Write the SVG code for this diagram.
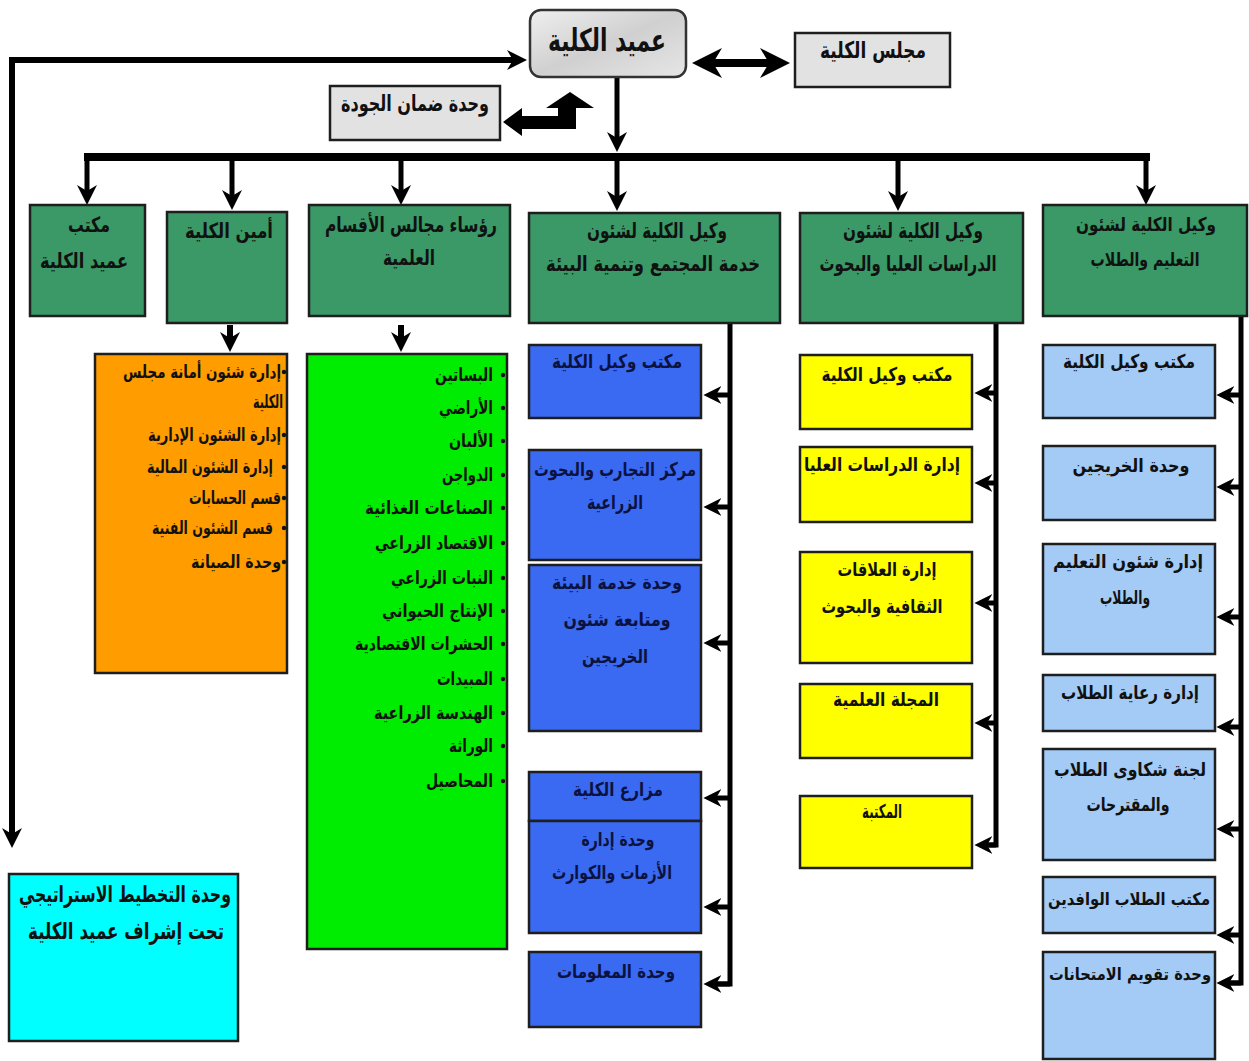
<svg xmlns="http://www.w3.org/2000/svg" width="1249" height="1061" viewBox="0 0 1249 1061">
<defs>
<style>
.bx{stroke:#1e1e1e;stroke-width:2.5}
.g2{fill:#3a9966}
.or{fill:#ff9c00}
.li{fill:#00ec00}
.bl{fill:#3a6af2}
.ye{fill:#ffff00}
.lb{fill:#a3cbf5}
.cy{fill:#00ffff}
.gr{fill:#e2e2e2}
text{font-family:"DejaVu Sans","Liberation Sans",sans-serif;font-weight:bold;text-anchor:middle;dominant-baseline:central;fill:#111}
.t20{font-size:21px}
.t18{font-size:19px}
.tl{font-size:18px;text-anchor:end}
.tb{fill:#0c1240}
.con{stroke:#000;fill:none}
.w5{stroke-width:5}
.w6{stroke-width:6}
.w8{stroke-width:8}
.bul{fill:#111}
</style>
<linearGradient id="gdean" x1="0" y1="0" x2="1" y2="1">
<stop offset="0" stop-color="#efefef"/>
<stop offset="0.5" stop-color="#d0d0d0"/>
<stop offset="1" stop-color="#e6e6e6"/>
</linearGradient>
<marker id="ah" viewBox="0 0 20 20" refX="6" refY="10" markerWidth="20" markerHeight="20" orient="auto" markerUnits="userSpaceOnUse">
<path d="M0,0 L20,10 L0,20 L6,10 z" fill="#000"/>
</marker>
<marker id="ahs" viewBox="0 0 20 20" refX="6" refY="10" markerWidth="18" markerHeight="18" orient="auto" markerUnits="userSpaceOnUse">
<path d="M0,0 L20,10 L0,20 L6,10 z" fill="#000"/>
</marker>
<marker id="ahb" viewBox="0 0 20 20" refX="6" refY="10" markerWidth="30" markerHeight="30" orient="auto" markerUnits="userSpaceOnUse">
<path d="M0,0 L20,10 L0,20 L6,10 z" fill="#000"/>
</marker>
<marker id="ahbs" viewBox="0 0 20 20" refX="6" refY="10" markerWidth="30" markerHeight="30" orient="auto-start-reverse" markerUnits="userSpaceOnUse">
<path d="M0,0 L20,10 L0,20 L6,10 z" fill="#000"/>
</marker>
</defs>
<rect width="1249" height="1061" fill="#fff"/>

<g id="connectors">
<line class="con w6" x1="12" y1="60" x2="513" y2="60" marker-end="url(#ah)"/>
<line class="con w6" x1="12" y1="57" x2="12" y2="834" marker-end="url(#ah)"/>
<line class="con w8" x1="713" y1="63" x2="769" y2="63" marker-start="url(#ahbs)" marker-end="url(#ahb)"/>
<polygon points="503,122 522,108 522,116 558,116 558,108 546,108 570,92 594,108 576,108 576,129 522,129 522,136" fill="#000"/>
<line class="con w5" x1="617" y1="78" x2="617" y2="138" marker-end="url(#ah)"/>
<line class="con w8" x1="84" y1="157" x2="1150" y2="157"/>
<line class="con w5" x1="87" y1="157" x2="87" y2="191" marker-end="url(#ah)"/>
<line class="con w5" x1="232" y1="157" x2="232" y2="196" marker-end="url(#ah)"/>
<line class="con w5" x1="401" y1="157" x2="401" y2="191" marker-end="url(#ah)"/>
<line class="con w5" x1="617" y1="157" x2="617" y2="197" marker-end="url(#ah)"/>
<line class="con w5" x1="898" y1="157" x2="898" y2="197" marker-end="url(#ah)"/>
<line class="con w5" x1="1146" y1="153" x2="1146" y2="191" marker-end="url(#ah)"/>
<line class="con w6" x1="230" y1="325" x2="230" y2="338" marker-end="url(#ah)"/>
<line class="con w6" x1="401" y1="325" x2="401" y2="338" marker-end="url(#ah)"/>
<polyline class="con w5" points="730,313 730,984 716,984"/>
<line class="con w5" x1="730" y1="395" x2="716" y2="395" marker-end="url(#ahs)"/>
<line class="con w5" x1="730" y1="507" x2="716" y2="507" marker-end="url(#ahs)"/>
<line class="con w5" x1="730" y1="643" x2="716" y2="643" marker-end="url(#ahs)"/>
<line class="con w5" x1="730" y1="798" x2="716" y2="798" marker-end="url(#ahs)"/>
<line class="con w5" x1="730" y1="907" x2="716" y2="907" marker-end="url(#ahs)"/>
<line class="con w5" x1="730" y1="984" x2="716" y2="984" marker-end="url(#ahs)"/>
<polyline class="con w5" points="996,323 996,845 987,845"/>
<line class="con w5" x1="996" y1="393" x2="987" y2="393" marker-end="url(#ahs)"/>
<line class="con w5" x1="996" y1="483" x2="987" y2="483" marker-end="url(#ahs)"/>
<line class="con w5" x1="996" y1="603" x2="987" y2="603" marker-end="url(#ahs)"/>
<line class="con w5" x1="996" y1="723" x2="987" y2="723" marker-end="url(#ahs)"/>
<line class="con w5" x1="996" y1="845" x2="987" y2="845" marker-end="url(#ahs)"/>
<polyline class="con w5" points="1241,316 1241,983 1229,983"/>
<line class="con w5" x1="1241" y1="395" x2="1229" y2="395" marker-end="url(#ahs)"/>
<line class="con w5" x1="1241" y1="487" x2="1229" y2="487" marker-end="url(#ahs)"/>
<line class="con w5" x1="1241" y1="617" x2="1229" y2="617" marker-end="url(#ahs)"/>
<line class="con w5" x1="1241" y1="727" x2="1229" y2="727" marker-end="url(#ahs)"/>
<line class="con w5" x1="1241" y1="829" x2="1229" y2="829" marker-end="url(#ahs)"/>
<line class="con w5" x1="1241" y1="935" x2="1229" y2="935" marker-end="url(#ahs)"/>
<line class="con w5" x1="1241" y1="983" x2="1229" y2="983" marker-end="url(#ahs)"/>
</g>

<g id="dean">
<rect x="530" y="10" width="156" height="67" rx="11" fill="url(#gdean)" stroke="#333" stroke-width="2.5"/>
<text x="607" y="40" style="font-size:31px" textLength="118" lengthAdjust="spacingAndGlyphs">عميد الكلية</text>
</g>
<g id="council">
<rect class="bx gr" x="795" y="33" width="155" height="54"/>
<text x="873" y="50" style="font-size:23px" textLength="106" lengthAdjust="spacingAndGlyphs">مجلس الكلية</text>
</g>
<g id="quality">
<rect class="bx gr" x="330" y="86" width="170" height="54"/>
<text x="415" y="103" style="font-size:22px" textLength="148" lengthAdjust="spacingAndGlyphs">وحدة ضمان الجودة</text>
</g>

<g id="dean-office">
<rect class="bx g2" x="30" y="205" width="115" height="111"/>
<text class="t20" x="89" y="225" textLength="42" lengthAdjust="spacingAndGlyphs">مكتب</text>
<text class="t20" x="84" y="261" textLength="88" lengthAdjust="spacingAndGlyphs">عميد الكلية</text>
</g>
<g id="secretary">
<rect class="bx g2" x="167" y="212" width="120" height="111"/>
<text class="t20" x="229" y="231" textLength="88" lengthAdjust="spacingAndGlyphs">أمين الكلية</text>
</g>
<g id="dept-heads">
<rect class="bx g2" x="309" y="205" width="201" height="111"/>
<text class="t20" x="411" y="225" textLength="172" lengthAdjust="spacingAndGlyphs">رؤساء مجالس الأقسام</text>
<text class="t20" x="409" y="258" textLength="52" lengthAdjust="spacingAndGlyphs">العلمية</text>
</g>
<g id="vice-community">
<rect class="bx g2" x="529" y="213" width="251" height="110"/>
<text class="t20" x="657" y="231" textLength="140" lengthAdjust="spacingAndGlyphs">وكيل الكلية لشئون</text>
<text class="t20" x="653" y="264" textLength="214" lengthAdjust="spacingAndGlyphs">خدمة المجتمع وتنمية البيئة</text>
</g>
<g id="vice-graduate">
<rect class="bx g2" x="800" y="213" width="223" height="110"/>
<text class="t20" x="913" y="231" textLength="140" lengthAdjust="spacingAndGlyphs">وكيل الكلية لشئون</text>
<text class="t20" x="908" y="264" textLength="177" lengthAdjust="spacingAndGlyphs">الدراسات العليا والبحوث</text>
</g>
<g id="vice-education">
<rect class="bx g2" x="1043" y="205" width="204" height="111"/>
<text x="1146" y="224" style="font-size:19px" textLength="140" lengthAdjust="spacingAndGlyphs">وكيل الكلية لشئون</text>
<text x="1145" y="259" style="font-size:19px" textLength="109" lengthAdjust="spacingAndGlyphs">التعليم والطلاب</text>
</g>

<g id="secretary-list">
<rect class="bx or" x="95" y="354" width="192" height="319"/>
<text class="tl" x="281" y="371" textLength="158" lengthAdjust="spacingAndGlyphs">إدارة شئون أمانة مجلس</text>
<text class="tl" x="283" y="401" textLength="30" lengthAdjust="spacingAndGlyphs">الكلية</text>
<text class="tl" x="281" y="434" textLength="133" lengthAdjust="spacingAndGlyphs">إدارة الشئون الإدارية</text>
<text class="tl" x="273" y="466" textLength="126" lengthAdjust="spacingAndGlyphs">إدارة الشئون المالية</text>
<text class="tl" x="281" y="497" textLength="92" lengthAdjust="spacingAndGlyphs">قسم الحسابات</text>
<text class="tl" x="273" y="527" textLength="121" lengthAdjust="spacingAndGlyphs">قسم الشئون الفنية</text>
<text class="tl" x="281" y="561" textLength="90" lengthAdjust="spacingAndGlyphs">وحدة الصيانة</text>
<circle class="bul" cx="284" cy="372" r="2.2"/>
<circle class="bul" cx="284" cy="435" r="2.2"/>
<circle class="bul" cx="284" cy="467" r="2.2"/>
<circle class="bul" cx="284" cy="498" r="2.2"/>
<circle class="bul" cx="284" cy="528" r="2.2"/>
<circle class="bul" cx="284" cy="562" r="2.2"/>
</g>

<g id="departments-list">
<rect class="bx li" x="307" y="354" width="200" height="595"/>
<text class="tl" x="493" y="374" textLength="58" lengthAdjust="spacingAndGlyphs">البساتين</text>
<text class="tl" x="493" y="407" textLength="54" lengthAdjust="spacingAndGlyphs">الأراضي</text>
<text class="tl" x="493" y="440" textLength="44" lengthAdjust="spacingAndGlyphs">الألبان</text>
<text class="tl" x="493" y="474" textLength="51" lengthAdjust="spacingAndGlyphs">الدواجن</text>
<text class="tl" x="493" y="507" textLength="128" lengthAdjust="spacingAndGlyphs">الصناعات الغذائية</text>
<text class="tl" x="493" y="542" textLength="118" lengthAdjust="spacingAndGlyphs">الاقتصاد الزراعي</text>
<text class="tl" x="493" y="577" textLength="102" lengthAdjust="spacingAndGlyphs">النبات الزراعي</text>
<text class="tl" x="493" y="610" textLength="111" lengthAdjust="spacingAndGlyphs">الإنتاج الحيواني</text>
<text class="tl" x="493" y="643" textLength="138" lengthAdjust="spacingAndGlyphs">الحشرات الاقتصادية</text>
<text class="tl" x="493" y="678" textLength="56" lengthAdjust="spacingAndGlyphs">المبيدات</text>
<text class="tl" x="493" y="712" textLength="119" lengthAdjust="spacingAndGlyphs">الهندسة الزراعية</text>
<text class="tl" x="493" y="745" textLength="44" lengthAdjust="spacingAndGlyphs">الوراثة</text>
<text class="tl" x="493" y="780" textLength="67" lengthAdjust="spacingAndGlyphs">المحاصيل</text>
<circle class="bul" cx="503" cy="375" r="2.2"/>
<circle class="bul" cx="503" cy="408" r="2.2"/>
<circle class="bul" cx="503" cy="441" r="2.2"/>
<circle class="bul" cx="503" cy="475" r="2.2"/>
<circle class="bul" cx="503" cy="508" r="2.2"/>
<circle class="bul" cx="503" cy="543" r="2.2"/>
<circle class="bul" cx="503" cy="578" r="2.2"/>
<circle class="bul" cx="503" cy="611" r="2.2"/>
<circle class="bul" cx="503" cy="644" r="2.2"/>
<circle class="bul" cx="503" cy="679" r="2.2"/>
<circle class="bul" cx="503" cy="713" r="2.2"/>
<circle class="bul" cx="503" cy="746" r="2.2"/>
<circle class="bul" cx="503" cy="781" r="2.2"/>
</g>

<g id="b1"><rect class="bx bl" x="529" y="345" width="172" height="73"/><text class="t18 tb" x="617" y="361" textLength="130" lengthAdjust="spacingAndGlyphs">مكتب وكيل الكلية</text></g>
<g id="b2"><rect class="bx bl" x="529" y="450" width="172" height="110"/><text class="t18 tb" x="615" y="469" textLength="162" lengthAdjust="spacingAndGlyphs">مركز التجارب والبحوث</text><text class="t18 tb" x="615" y="502" textLength="56" lengthAdjust="spacingAndGlyphs">الزراعية</text></g>
<g id="b3"><rect class="bx bl" x="529" y="565" width="172" height="166"/><text class="t18 tb" x="617" y="582" textLength="130" lengthAdjust="spacingAndGlyphs">وحدة خدمة البيئة</text><text class="t18 tb" x="617" y="619" textLength="107" lengthAdjust="spacingAndGlyphs">ومتابعة شئون</text><text class="t18 tb" x="615" y="656" textLength="66" lengthAdjust="spacingAndGlyphs">الخريجين</text></g>
<g id="b4"><rect class="bx bl" x="529" y="772" width="172" height="49"/><text class="t18 tb" x="618" y="789" textLength="90" lengthAdjust="spacingAndGlyphs">مزارع الكلية</text></g>
<g id="b5"><rect class="bx bl" x="529" y="821" width="172" height="112"/><text class="t18 tb" x="618" y="839" textLength="73" lengthAdjust="spacingAndGlyphs">وحدة إدارة</text><text class="t18 tb" x="612" y="872" textLength="120" lengthAdjust="spacingAndGlyphs">الأزمات والكوارث</text></g>
<g id="b6"><rect class="bx bl" x="529" y="952" width="172" height="75"/><text class="t18 tb" x="616" y="971" textLength="118" lengthAdjust="spacingAndGlyphs">وحدة المعلومات</text></g>

<g id="y1"><rect class="bx ye" x="800" y="355" width="172" height="74"/><text class="t18" x="887" y="374" textLength="131" lengthAdjust="spacingAndGlyphs">مكتب وكيل الكلية</text></g>
<g id="y2"><rect class="bx ye" x="800" y="447" width="172" height="75"/><text class="t18" x="882" y="464" textLength="156" lengthAdjust="spacingAndGlyphs">إدارة الدراسات العليا</text></g>
<g id="y3"><rect class="bx ye" x="800" y="552" width="172" height="111"/><text class="t18" x="887" y="569" textLength="99" lengthAdjust="spacingAndGlyphs">إدارة العلاقات</text><text class="t18" x="882" y="606" textLength="121" lengthAdjust="spacingAndGlyphs">الثقافية والبحوث</text></g>
<g id="y4"><rect class="bx ye" x="800" y="684" width="172" height="74"/><text class="t18" x="886" y="699" textLength="106" lengthAdjust="spacingAndGlyphs">المجلة العلمية</text></g>
<g id="y5"><rect class="bx ye" x="800" y="796" width="172" height="72"/><text class="t18" x="882" y="811" textLength="40" lengthAdjust="spacingAndGlyphs">المكتبة</text></g>

<g id="l1"><rect class="bx lb" x="1043" y="345" width="172" height="73"/><text class="t18" x="1129" y="361" textLength="132" lengthAdjust="spacingAndGlyphs">مكتب وكيل الكلية</text></g>
<g id="l2"><rect class="bx lb" x="1043" y="446" width="172" height="74"/><text class="t18" x="1131" y="465" textLength="117" lengthAdjust="spacingAndGlyphs">وحدة الخريجين</text></g>
<g id="l3"><rect class="bx lb" x="1043" y="544" width="172" height="110"/><text class="t18" x="1128" y="561" textLength="150" lengthAdjust="spacingAndGlyphs">إدارة شئون التعليم</text><text class="t18" x="1125" y="597" textLength="50" lengthAdjust="spacingAndGlyphs">والطلاب</text></g>
<g id="l4"><rect class="bx lb" x="1043" y="675" width="172" height="56"/><text class="t18" x="1130" y="692" textLength="138" lengthAdjust="spacingAndGlyphs">إدارة رعاية الطلاب</text></g>
<g id="l5"><rect class="bx lb" x="1043" y="749" width="172" height="111"/><text class="t18" x="1130" y="769" textLength="152" lengthAdjust="spacingAndGlyphs">لجنة شكاوى الطلاب</text><text class="t18" x="1128" y="804" textLength="83" lengthAdjust="spacingAndGlyphs">والمقترحات</text></g>
<g id="l6"><rect class="bx lb" x="1043" y="877" width="172" height="56"/><text x="1129" y="899" style="font-size:17px" textLength="162" lengthAdjust="spacingAndGlyphs">مكتب الطلاب الوافدين</text></g>
<g id="l7"><rect class="bx lb" x="1043" y="952" width="172" height="107"/><text x="1130" y="974" style="font-size:17px" textLength="162" lengthAdjust="spacingAndGlyphs">وحدة تقويم الامتحانات</text></g>

<g id="strategic">
<rect class="bx cy" x="9" y="874" width="229" height="167"/>
<text x="125" y="894" style="font-size:23px" textLength="212" lengthAdjust="spacingAndGlyphs">وحدة التخطيط الاستراتيجي</text>
<text x="126" y="931" style="font-size:23px" textLength="196" lengthAdjust="spacingAndGlyphs">تحت إشراف عميد الكلية</text>
</g>
</svg>
